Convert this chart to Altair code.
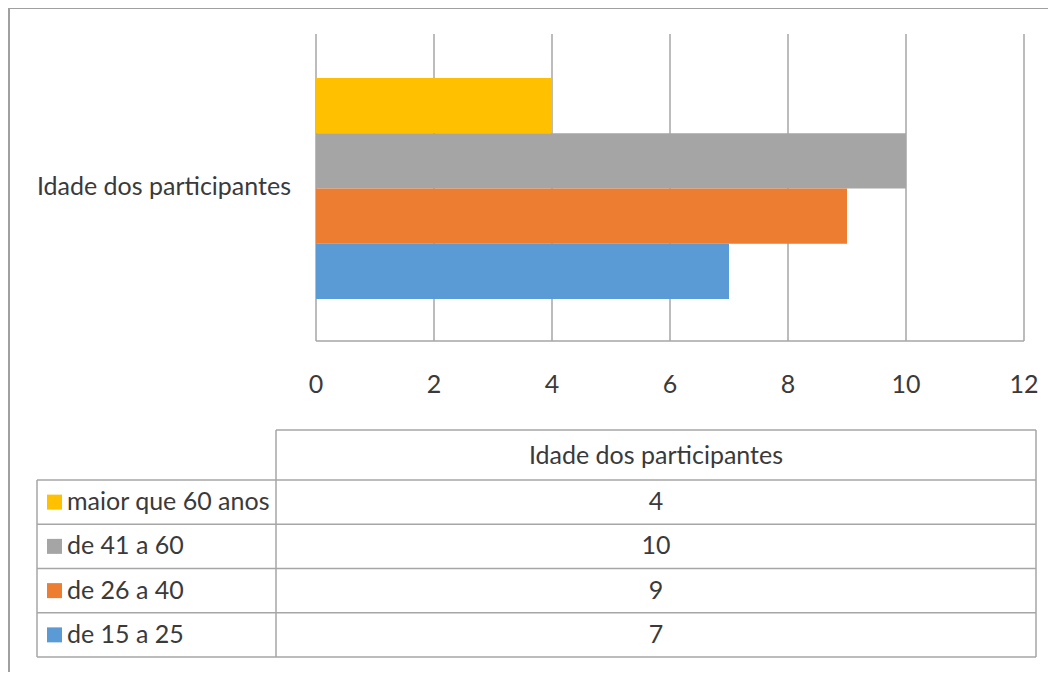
import altair as alt
import pandas as pd

series = ["maior que 60 anos", "de 41 a 60", "de 26 a 40", "de 15 a 25"]
values = [4, 10, 9, 7]
colors = ["#FFC000", "#A5A5A5", "#ED7D31", "#5B9BD5"]
category = "Idade dos participantes"
ticks = [0, 2, 4, 6, 8, 10, 12]

df = pd.DataFrame({"series": series, "value": values})
tick_df = pd.DataFrame({"t": ticks})
one = pd.DataFrame({"k": [0]})

FONT = "Lato"
FS = 25
TXT = "#3A3A3A"
GRID = "#A6A6A6"

xscale = alt.Scale(domain=[0, 12], range=[308, 1016], nice=False, zero=True)
bar_y = alt.Scale(domain=series, range=[70, 291], paddingInner=0, paddingOuter=0)
tab_y = alt.Scale(domain=series, range=[472, 649], paddingInner=0, paddingOuter=0)
cscale = alt.Scale(domain=series, range=colors)

base = alt.Chart(df)

grid = alt.Chart(tick_df).mark_rule(color=GRID, strokeWidth=1.5).encode(
    x=alt.X("t:Q", scale=xscale, axis=None),
    y=alt.value(26), y2=alt.value(333))

baseline = alt.Chart(one).mark_rule(color=GRID, strokeWidth=1.5).encode(
    x=alt.X(datum=0, scale=xscale, axis=None), x2=alt.X2(datum=12),
    y=alt.value(333))

bars = base.mark_bar(opacity=1).encode(
    x=alt.X("value:Q", scale=xscale, axis=None),
    y=alt.Y("series:N", scale=bar_y, axis=None, sort=series),
    color=alt.Color("series:N", scale=cscale, legend=None))

tick_labels = alt.Chart(tick_df).mark_text(font=FONT, fontSize=FS, color=TXT, baseline="middle").encode(
    x=alt.X("t:Q", scale=xscale, axis=None),
    y=alt.value(377),
    text="t:Q")

cat_label = alt.Chart(one).mark_text(font=FONT, fontSize=FS, color=TXT, align="right", baseline="middle").encode(
    x=alt.value(283), y=alt.value(179), text=alt.value(category))

# data table
row_lines = base.mark_rule(color=GRID, strokeWidth=1.5).encode(
    y=alt.Y("series:N", scale=tab_y, axis=None, bandPosition=0, sort=series),
    x=alt.value(29), x2=alt.value(1028))
bottom_line = alt.Chart(one).mark_rule(color=GRID, strokeWidth=1.5).encode(
    y=alt.value(649), x=alt.value(29), x2=alt.value(1028))
header_top = alt.Chart(one).mark_rule(color=GRID, strokeWidth=1.5).encode(
    y=alt.value(422), x=alt.value(268), x2=alt.value(1028))
v_left = alt.Chart(one).mark_rule(color=GRID, strokeWidth=1.5).encode(
    x=alt.value(29), y=alt.value(472), y2=alt.value(649))
v_mid = alt.Chart(one).mark_rule(color=GRID, strokeWidth=1.5).encode(
    x=alt.value(268), y=alt.value(422), y2=alt.value(649))
v_right = alt.Chart(one).mark_rule(color=GRID, strokeWidth=1.5).encode(
    x=alt.value(1028), y=alt.value(422), y2=alt.value(649))

header_text = alt.Chart(one).mark_text(font=FONT, fontSize=FS, color=TXT, baseline="middle").encode(
    x=alt.value(648), y=alt.value(448), text=alt.value(category))

val_text = base.mark_text(font=FONT, fontSize=FS, color=TXT, baseline="middle").encode(
    x=alt.value(648),
    y=alt.Y("series:N", scale=tab_y, axis=None, sort=series),
    text="value:Q")

leg_sq = base.mark_square(size=225, filled=True, opacity=1).encode(
    x=alt.value(46.5),
    y=alt.Y("series:N", scale=tab_y, axis=None, sort=series),
    color=alt.Color("series:N", scale=cscale, legend=None))

leg_text = base.mark_text(font=FONT, fontSize=FS, color=TXT, align="left", baseline="middle").encode(
    x=alt.value(59),
    y=alt.Y("series:N", scale=tab_y, axis=None, sort=series),
    text="series:N")

frame_left = alt.Chart(one).mark_rule(color="#A0A0A0", strokeWidth=2).encode(
    x=alt.value(1), y=alt.value(0), y2=alt.value(664))
frame_top = alt.Chart(one).mark_rule(color="#A0A0A0", strokeWidth=2).encode(
    y=alt.value(0), x=alt.value(0), x2=alt.value(1040))

chart = alt.layer(
    grid, baseline, bars, tick_labels, cat_label,
    row_lines, bottom_line, header_top, v_left, v_mid, v_right,
    header_text, val_text, leg_sq, leg_text, frame_left, frame_top
).resolve_scale(y="independent").properties(
    width=1040, height=664,
    autosize=alt.AutoSizeParams(type="none"),
    padding=0,
    background="white"
).configure_view(stroke=None)

chart.save("out.html", embed_options={"renderer": "svg", "actions": False})
